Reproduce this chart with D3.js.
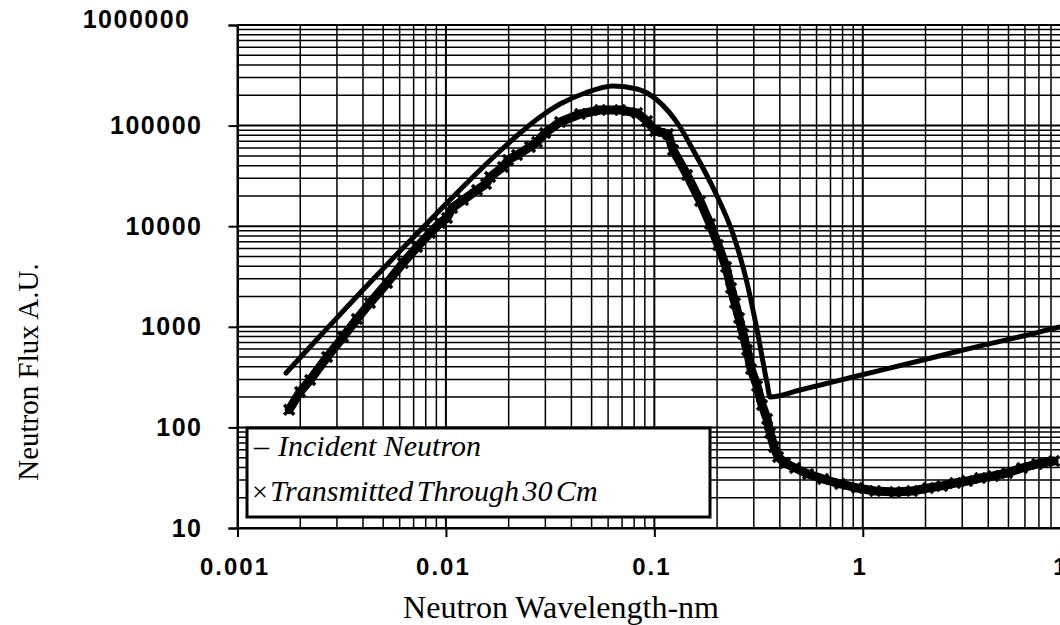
<!DOCTYPE html>
<html>
<head>
<meta charset="utf-8">
<script src="https://cdn.jsdelivr.net/npm/d3@7"></script>
<style>
  html, body { margin: 0; padding: 0; background: #fff; }
  svg { display: block; }
</style>
</head>
<body>
<svg id="chart" width="1060" height="625"></svg>
<script>
// Incident neutron spectrum (wavelength in nm, flux in arbitrary units)
const incidentWavelength = [0.00171, 0.00249, 0.00387, 0.00602, 0.00937, 0.01458, 0.01818, 0.02268,
  0.02828, 0.03528, 0.04651, 0.06335, 0.0826, 0.103, 0.1328, 0.1534, 0.1751, 0.1999, 0.2385,
  0.2785, 0.311, 0.3474, 0.3591, 0.5003, 0.9389, 1.947, 3.029, 5.877, 8.844, 10];
const incidentFlux = [347, 810, 2168, 5670, 14490, 36190, 55910, 84400,
  121800, 163900, 210900, 247500, 231100, 179700, 96850, 57220, 34580, 19960, 8364,
  2725, 929, 276, 200.6, 235.4, 324, 467.7, 588, 810, 995, 1054];

// Spectrum transmitted through 30 cm
const transmittedWavelength = [0.00177, 0.001995, 0.00223, 0.00269, 0.00321, 0.00374, 0.00432, 0.00522,
  0.00622, 0.00727, 0.00839, 0.00937, 0.01012, 0.0107, 0.01208, 0.0141, 0.01557, 0.01628,
  0.01879, 0.01986, 0.02194, 0.02532, 0.02736, 0.02989, 0.03528, 0.04401, 0.05489, 0.06846,
  0.0826, 0.0923, 0.1008, 0.1163, 0.1229, 0.1436, 0.1657, 0.1851, 0.2022,
  0.2208, 0.2333, 0.2438, 0.2549, 0.2665, 0.2785, 0.2911, 0.311, 0.3287, 0.3474, 0.3591, 0.3754,
  0.3924, 0.4238, 0.4732, 0.5464, 0.6451, 0.7782, 0.9389, 1.146, 1.429, 1.724, 2.058, 2.402,
  2.773, 3.167, 3.656, 4.219, 4.924, 5.812, 6.861, 8.279];
const transmittedFlux = [150, 225, 296, 501, 792, 1195, 1725, 2725,
  4305, 6210, 8550, 10760, 12070, 15170, 18200, 22900, 26250, 30830,
  38770, 45500, 51000, 61300, 68700, 84400, 108600, 130400, 142900, 142900,
  133400, 111100, 88400, 82500, 57220, 32280, 17800, 10510, 6500,
  3930, 2430, 1725, 1223, 848, 588, 381, 258, 167, 121, 88, 63.8,
  50.8, 44.3, 39.5, 34.4, 30.7, 27.4, 25.0, 23.3, 22.8, 23.3, 25.0, 26.2,
  28.0, 29.3, 31.4, 32.9, 35.2, 39.5, 43.3, 46.3];

const xTickValues = [0.001, 0.01, 0.1, 1, 10];
const xTickLabels = ["0.001", "0.01", "0.1", "1", "10"];
const yTickValues = [10, 100, 1000, 10000, 100000, 1000000];
const yTickLabels = ["10", "100", "1000", "10000", "100000", "1000000"];
const legendLabels = ["Incident Neutron", "Transmitted Through 30 Cm"];
const xTitle = "Neutron Wavelength-nm";
const yTitle = "Neutron Flux A.U.";

const plot = { left: 237.5, top: 25, right: 1071.2, bottom: 528 };

const svg = d3.select("#chart");

const x = d3.scaleLog().domain([0.001, 10]).range([plot.left, plot.right]);
const y = d3.scaleLog().domain([10, 1000000]).range([plot.bottom, plot.top]);

// Log grid: every integer multiple inside each decade
function logGrid(domain) {
  const out = [];
  for (let d = domain[0]; d < domain[1] * 0.999; d *= 10) {
    for (let m = 1; m <= 9; m++) out.push({ v: d * m, major: m === 1 });
  }
  out.push({ v: domain[1], major: true });
  return out;
}

const grid = svg.append("g").attr("class", "grid");
grid.selectAll("line.gx")
  .data(logGrid(x.domain()))
  .join("line")
  .attr("class", "gx")
  .attr("x1", d => x(d.v)).attr("x2", d => x(d.v))
  .attr("y1", plot.top).attr("y2", plot.bottom)
  .attr("stroke", "#000")
  .attr("stroke-width", d => d.major ? 2 : 1.5);
grid.selectAll("line.gy")
  .data(logGrid(y.domain()))
  .join("line")
  .attr("class", "gy")
  .attr("y1", d => y(d.v)).attr("y2", d => y(d.v))
  .attr("x1", plot.left).attr("x2", plot.right)
  .attr("stroke", "#000")
  .attr("stroke-width", d => d.major ? 2 : 1.5);

// Axes
const xAxis = d3.axisBottom(x)
  .tickValues(xTickValues)
  .tickFormat((d, i) => xTickLabels[i])
  .tickSize(9)
  .tickPadding(21);
const gx = svg.append("g")
  .attr("transform", `translate(0,${plot.bottom})`)
  .call(xAxis);
gx.select(".domain").attr("stroke", "#000").attr("stroke-width", 2);
gx.selectAll(".tick line").attr("stroke", "#000").attr("stroke-width", 2);
gx.selectAll(".tick text")
  .attr("fill", "#000")
  .attr("dx", -3)
  .style("font-family", "'Liberation Sans', Arial, sans-serif")
  .style("font-weight", "bold")
  .style("font-size", "24px")
  .style("letter-spacing", "2px");

const yAxis = d3.axisLeft(y)
  .tickValues(yTickValues)
  .tickFormat(d => yTickLabels[yTickValues.indexOf(d)])
  .tickSize(9)
  .tickPadding(26);
const gy = svg.append("g")
  .attr("transform", `translate(${plot.left},0)`)
  .call(yAxis);
gy.select(".domain").attr("stroke", "#000").attr("stroke-width", 2);
gy.selectAll(".tick line").attr("stroke", "#000").attr("stroke-width", 2);
gy.selectAll(".tick text")
  .attr("fill", "#000")
  .style("font-family", "'Liberation Sans', Arial, sans-serif")
  .style("font-weight", "bold")
  .style("font-size", "25px")
  .style("letter-spacing", "1.5px");
// the topmost label sits a little above its gridline
gy.selectAll(".tick text")
  .filter(d => d === d3.max(yTickValues))
  .attr("dx", -12)
  .attr("y", -6);

// Transmitted series: dense x markers forming a thick band
const transmitted = transmittedWavelength.map((w, i) => ({ w, f: transmittedFlux[i] }));
const bandLine = d3.line().x(d => x(d.w)).y(d => y(d.f)).curve(d3.curveLinear);
svg.append("path")
  .datum(transmitted)
  .attr("d", bandLine)
  .attr("fill", "none")
  .attr("stroke", "#000")
  .attr("stroke-width", 9)
  .attr("stroke-linejoin", "round")
  .attr("stroke-linecap", "round");
svg.append("g").selectAll("path")
  .data(transmitted)
  .join("path")
  .attr("transform", d => `translate(${x(d.w)},${y(d.f)})`)
  .attr("d", "M-5,-5L5,5M-5,5L5,-5")
  .attr("stroke", "#000")
  .attr("stroke-width", 3.5)
  .attr("fill", "none");

// Incident series: solid line
const incident = incidentWavelength.map((w, i) => ({ w, f: incidentFlux[i] }));
const incLine = d3.line().x(d => x(d.w)).y(d => y(d.f)).curve(d3.curveMonotoneX);
svg.append("path")
  .datum(incident)
  .attr("d", incLine)
  .attr("fill", "none")
  .attr("stroke", "#000")
  .attr("stroke-width", 5)
  .attr("stroke-linejoin", "round")
  .attr("stroke-linecap", "round");

// Legend
const legend = svg.append("g");
legend.append("rect")
  .attr("x", 247).attr("y", 428).attr("width", 463).attr("height", 89)
  .attr("fill", "#fff").attr("stroke", "#000").attr("stroke-width", 3);
const serif = "'Liberation Serif', 'Times New Roman', serif";
legend.append("text")
  .attr("x", 254).attr("y", 456)
  .style("font-family", serif).style("font-size", "30px")
  .text("\u2013");
legend.append("text")
  .attr("x", 278).attr("y", 456)
  .style("font-family", serif).style("font-size", "30px").style("font-style", "italic")
  .text(legendLabels[0]);
legend.append("text")
  .attr("x", 252).attr("y", 501)
  .style("font-family", serif).style("font-size", "28px")
  .text("\u00d7");
legend.append("text")
  .attr("x", 270).attr("y", 501)
  .style("font-family", serif).style("font-size", "30px").style("font-style", "italic")
  .style("word-spacing", "-4px")
  .text(legendLabels[1]);

// Axis titles
svg.append("text")
  .attr("x", 561).attr("y", 618)
  .attr("text-anchor", "middle")
  .style("font-family", serif).style("font-size", "32px")
  .text(xTitle);
svg.append("text")
  .attr("transform", "translate(38,372) rotate(-90)")
  .attr("text-anchor", "middle")
  .style("font-family", serif).style("font-size", "29px")
  .text(yTitle);
</script>
</body>
</html>
